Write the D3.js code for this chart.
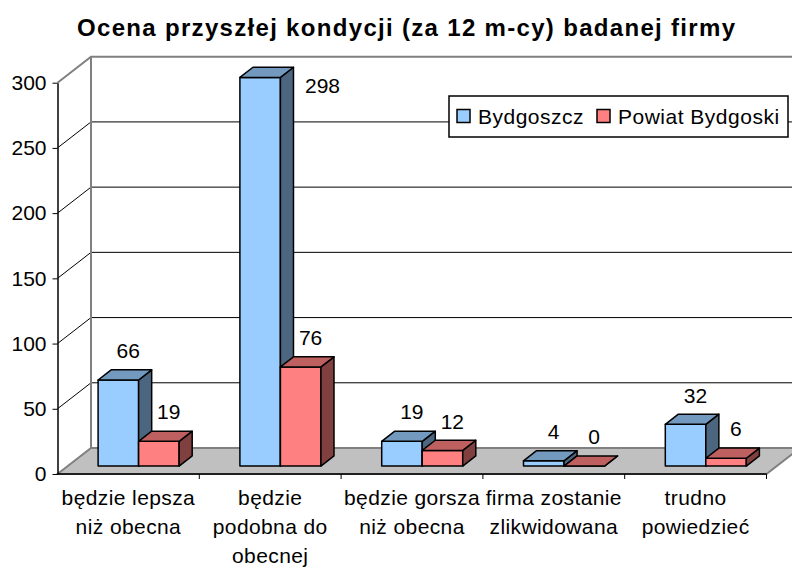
<!DOCTYPE html>
<html lang="pl">
<head>
    <meta charset="UTF-8">
    <title>Ocena przyszłej kondycji</title>
    <script src="https://d3js.org/d3.v7.min.js"></script>
</head>
<style>
    html,body {
        margin: 0;
        padding: 0;
        background: #fff;
    }
    text {
        font-family: "Liberation Sans", Arial, sans-serif;
    }
</style>
<body>
    <div id="chart"></div>
</body>
<script>
    // dane
    const categories = ['będzie lepsza niż obecna', 'będzie podobna do obecnej', 'będzie gorsza niż obecna',
        'firma zostanie zlikwidowana', 'trudno powiedzieć'];
    const categoryLines = [
        ['będzie lepsza', 'niż obecna'],
        ['będzie', 'podobna do', 'obecnej'],
        ['będzie gorsza', 'niż obecna'],
        ['firma zostanie', 'zlikwidowana'],
        ['trudno', 'powiedzieć']
    ];
    const seriesNames = ['Bydgoszcz', 'Powiat Bydgoski'];
    const bydgoszcz = [66, 298, 19, 4, 32];
    const powiat = [19, 76, 12, 0, 6];
    const yTicks = [0, 50, 100, 150, 200, 250, 300];

    const W = 792, H = 567;
    const svg = d3.select('#chart').append('svg')
        .attr('width', W)
        .attr('height', H);

    // glebokosc 3D
    const DX = 33.5, DY = 26;
    const zFront = 0.305, zBack = 0.695;

    const x = d3.scaleBand().domain(categories).range([57.5, 766.5]).padding(0);
    const xs = d3.scaleBand().domain(seriesNames).range([0, x.bandwidth()]).paddingInner(0).paddingOuter(0.75);
    const y = d3.scaleLinear().domain([0, 300]).range([474, 82.7]);

    const faceColors = {
        'Bydgoszcz': { front: '#99ccff', top: '#7399bf', side: '#4d6680' },
        'Powiat Bydgoski': { front: '#ff8080', top: '#bf6060', side: '#804040' }
    };

    const proj = (px, v, z) => [px + z * DX, y(v) - z * DY];
    const poly = pts => 'M' + pts.map(p => p.join(',')).join('L') + 'Z';

    const x0 = x.range()[0], x1 = x.range()[1];

    // podloga
    svg.append('path')
        .attr('d', poly([proj(x0, 0, 0), proj(x0, 0, 1), proj(x1, 0, 1), proj(x1, 0, 0)]))
        .attr('fill', '#c0c0c0')
        .attr('stroke', '#808080')
        .attr('stroke-width', 2);

    // linie siatki: sciana boczna i tylna
    const grid = svg.append('g');
    yTicks.filter(t => t > 0).forEach(t => {
        const top = t === 300;
        grid.append('path')
            .attr('d', 'M' + proj(x0, t, 0).join(',') + 'L' + proj(x0, t, 1).join(',') + 'L' + proj(x1, t, 1).join(','))
            .attr('fill', 'none')
            .attr('stroke', top ? '#808080' : '#000')
            .attr('stroke-width', top ? 2 : 1);
    });
    grid.append('line')
        .attr('x1', proj(x0, 0, 1)[0]).attr('y1', proj(x0, 0, 1)[1])
        .attr('x2', proj(x0, 300, 1)[0]).attr('y2', proj(x0, 300, 1)[1])
        .attr('stroke', '#808080')
        .attr('stroke-width', 2);

    // os Y
    const yAxis = svg.append('g')
        .attr('transform', `translate(${x0},0)`)
        .call(d3.axisLeft(y).tickValues(yTicks).tickSize(5).tickSizeOuter(0).tickPadding(6));
    yAxis.select('.domain').attr('stroke', '#000').attr('stroke-width', 1.5);
    yAxis.selectAll('.tick line').attr('stroke', '#000');
    yAxis.selectAll('.tick text')
        .attr('font-size', 21)
        .attr('font-family', '"Liberation Sans", Arial, sans-serif')
        .attr('fill', '#000');

    // os X
    svg.append('line')
        .attr('x1', x0).attr('y1', y(0)).attr('x2', x1).attr('y2', y(0))
        .attr('stroke', '#000').attr('stroke-width', 1.5);
    svg.append('g').selectAll('line')
        .data(categories)
        .enter().append('line')
        .attr('x1', d => x(d) + x.bandwidth()).attr('x2', d => x(d) + x.bandwidth())
        .attr('y1', y(0)).attr('y2', y(0) + 5)
        .attr('stroke', '#000');

    const labels = svg.append('g')
        .selectAll('text')
        .data(categories)
        .enter().append('text')
        .attr('text-anchor', 'middle')
        .attr('font-size', 21)
        .attr('letter-spacing', 0.4)
        .attr('x', d => x(d) + x.bandwidth() / 2)
        .attr('y', 505);
    labels.selectAll('tspan')
        .data((d, i) => categoryLines[i])
        .enter().append('tspan')
        .attr('x', function () { return this.parentNode.getAttribute('x'); })
        .attr('dy', (d, i) => i === 0 ? 0 : 29)
        .text(d => d);

    // slupki
    const bars = [];
    categories.forEach((c, i) => {
        [bydgoszcz[i], powiat[i]].forEach((v, s) => {
            bars.push({ cat: c, series: seriesNames[s], value: v });
        });
    });

    const barG = svg.append('g');
    const labelG = svg.append('g');
    bars.forEach(b => {
        const l = x(b.cat) + xs(b.series);
        const r = l + xs.bandwidth();
        const col = faceColors[b.series];
        const g = barG.append('g')
            .attr('stroke', '#000')
            .attr('stroke-width', 1.5)
            .attr('stroke-linejoin', 'round');
        // przod
        g.append('path')
            .attr('d', poly([proj(l, 0, zFront), proj(r, 0, zFront), proj(r, b.value, zFront), proj(l, b.value, zFront)]))
            .attr('fill', col.front);
        // bok
        g.append('path')
            .attr('d', poly([proj(r, 0, zFront), proj(r, 0, zBack), proj(r, b.value, zBack), proj(r, b.value, zFront)]))
            .attr('fill', col.side);
        // gora
        g.append('path')
            .attr('d', poly([proj(l, b.value, zFront), proj(r, b.value, zFront), proj(r, b.value, zBack), proj(l, b.value, zBack)]))
            .attr('fill', col.top);

        // etykieta wartosci
        let lx = (l + r) / 2 + 0.6 * DX;
        let ly = proj(l, b.value, zBack)[1] - 19;
        if (ly - 10 < y(300) - DY) {
            lx = r + zBack * DX + 29;
            ly = proj(l, b.value, zFront)[1] + 8;
        }
        labelG.append('text')
            .attr('x', lx)
            .attr('y', ly)
            .attr('dy', '0.35em')
            .attr('text-anchor', 'middle')
            .attr('font-size', 21)
            .text(b.value);
    });

    // tytul
    svg.append('text')
        .attr('x', 406)
        .attr('y', 36)
        .attr('text-anchor', 'middle')
        .attr('font-size', 24)
        .attr('font-weight', 'bold')
        .attr('textLength', 658)
        .attr('lengthAdjust', 'spacing')
        .text('Ocena przyszłej kondycji (za 12 m-cy) badanej firmy');

    // legenda
    const legend = svg.append('g').attr('transform', 'translate(449,96)');
    legend.append('rect')
        .attr('width', 339).attr('height', 41)
        .attr('fill', '#fff').attr('stroke', '#000').attr('stroke-width', 1.5);
    const legendX = [8, 148];
    seriesNames.forEach((s, i) => {
        legend.append('rect')
            .attr('x', legendX[i]).attr('y', 13.5)
            .attr('width', 13).attr('height', 13)
            .attr('fill', faceColors[s].front)
            .attr('stroke', '#000').attr('stroke-width', 1.5);
        legend.append('text')
            .attr('x', legendX[i] + 21).attr('y', 20.5)
            .attr('dy', '0.35em')
            .attr('font-size', 21)
            .attr('letter-spacing', 0.5)
            .text(s);
    });
</script>
</html>
